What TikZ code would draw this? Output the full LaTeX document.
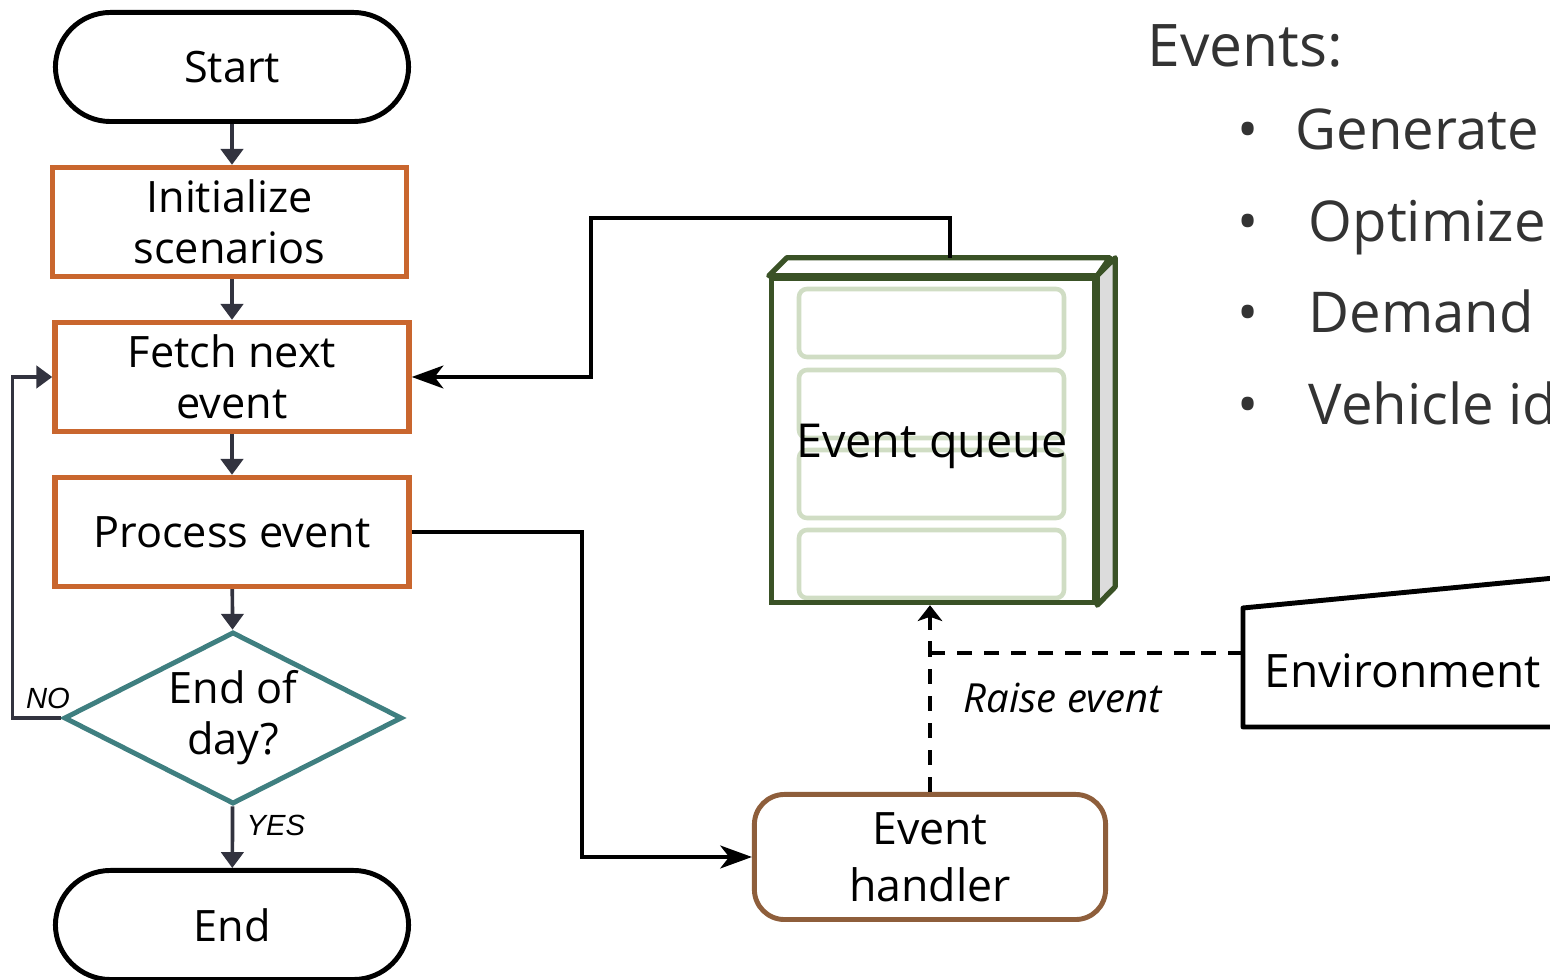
\documentclass[tikz,border=0pt]{standalone}
\usepackage{fontspec}
\usepackage{xcolor}
\usepackage{tikz}
\usetikzlibrary{arrows.meta,shapes.geometric}
\setmainfont{Open Sans}
\newfontfamily\labelfont{Liberation Sans}

\definecolor{boxorange}{HTML}{C9662E}
\definecolor{decteal}{HTML}{3F7F80}
\definecolor{flowgrey}{HTML}{32333F}
\definecolor{queuegreen}{HTML}{3A5226}
\definecolor{slotgreen}{HTML}{D0DDC4}
\definecolor{handlerbrown}{HTML}{8E5E3B}
\definecolor{sidegrey}{HTML}{DCDCDC}
\definecolor{listgrey}{HTML}{333333}

\newcommand{\boxfont}{\fontsize{12.3}{14.5}\selectfont}
\newcommand{\listfont}{\fontsize{16}{19}\selectfont}

\begin{document}
\begin{tikzpicture}[x=0.01cm, y=-0.01cm,
    every node/.style={font=\boxfont},
    terminal/.style={draw=black, line width=1.4pt, rounded corners=0.55cm, minimum width=3.53cm, minimum height=1.09cm, align=center},
    procbox/.style={draw=boxorange, line width=1.5pt, minimum width=3.54cm, minimum height=1.09cm, align=center},
    decision/.style={draw=decteal, line width=1.4pt, diamond, aspect=1.96, minimum width=3.38cm, minimum height=1.72cm, inner sep=0pt, align=center},
    flow/.style={draw=flowgrey, line width=1.05pt, -{Triangle[length=4.5pt,width=6.3pt]}},
    link/.style={draw=black, line width=1.05pt, -{Stealth[length=9pt,width=6.5pt,inset=2.5pt]}},
    dlink/.style={draw=black, line width=1.1pt, dash pattern=on 4.3pt off 3.4pt},
    slot/.style={draw=slotgreen, line width=1.3pt, rounded corners=0.08cm},
    qface/.style={draw=queuegreen, line width=1.5pt, line join=round},
    yesno/.style={font=\labelfont\itshape\fontsize{8.3}{10}\selectfont, inner sep=0pt},
    listtext/.style={font=\listfont, text=listgrey, inner sep=0pt, anchor=base west}]
    \path[use as bounding box, clip] (0,0) rectangle (1550,980);

    % Flowchart
    \node[terminal] (start) at (232,67) {Start};
    \node[procbox] (init) at (229.5,222) {Initialize\\scenarios};
    \node[procbox] (fetch) at (232,377) {Fetch next\\event};
    \node[procbox] (process) at (232,532) {Process event};
    \node[decision] (decide) at (233,718) {End of\\day?};
    \node[terminal] (end) at (232,925) {End};

    \draw[flow] (start) -- (start.south |- init.north);
    \draw[flow] (init.south -| fetch.north) -- (fetch);
    \draw[flow] (fetch) -- (process);
    \draw[flow] (process) -- (decide);
    \draw[flow] (decide) -- (end);
    \draw[flow] (decide.west) -- ++(-49,0) |- (fetch.west);
    \node[yesno] (nolabel) at (48,698) {NO};
    \node[yesno, anchor=west] (yeslabel) at (246,825) {YES};

    % Event queue
    \foreach \y in {289,370,450,530}
        \draw[slot] (799,\y) rectangle (1064,\y+68);
    \node[draw=queuegreen, line width=1.5pt, minimum width=3.23cm, minimum height=3.24cm] (queue) at (933,440.5) {};
    \node[font=\fontsize{13.3}{16}\selectfont, inner sep=0pt] (qlabel) at (932,446) {Event queue};
    \draw[qface, fill=white] (queue.north west) -- ++(18,-18) -- ++(323,0) -- (queue.north east) -- cycle;
    \draw[qface, fill=sidegrey] (queue.north east) -- ++(18,-18) -- ++(0,329) -- (queue.south east) -- cycle;
    \coordinate (qtop) at (950,258);

    % Handler and environment
    \node[draw=handlerbrown, line width=1.4pt, rounded corners=0.3cm, minimum width=3.51cm, minimum height=1.25cm, align=center, font=\fontsize{12.7}{16.2}\selectfont] (handler) at (930,857) {Event\\handler};
    \draw[line width=1.4pt, line join=round] (1700,564) -- (1243,608) -- (1243,727) -- (1700,727);
    \node[anchor=west, inner sep=0pt, font=\fontsize{13.1}{16}\selectfont] (env) at (1264,671) {Environment};
    \coordinate (envin) at (1243,653);

    % Connections
    \draw[link] (qtop) |- (591,218) |- (fetch.east);
    \draw[link] (process.east) -| (582,857) -- (handler.west);
    \draw[dlink] (envin) -- (handler.north |- envin);
    \draw[dlink, -{Stealth[length=4.5pt,width=7pt,inset=1.2pt]}] (handler.north) -- (handler.north |- queue.south);
    \node[anchor=west, inner sep=0pt, font=\itshape\fontsize{11.4}{13}\selectfont] (raise) at (963,698) {Raise event};

    % Events list
    \node[listtext, font=\fontsize{16.7}{20}\selectfont] (events) at (1147,67) {Events:};
    \foreach \name/\txt/\xx/\yy in {gen/Generate s/1295/150, opt/Optimize/1308/242, dem/Demand k/1308/333, veh/Vehicle id/1308/425} {
        \node[listtext, anchor=base] (b\name) at (1248,\yy) {\textbullet};
        \node[listtext] (\name) at (\xx,\yy) {\txt};
    }
\end{tikzpicture}
\end{document}
